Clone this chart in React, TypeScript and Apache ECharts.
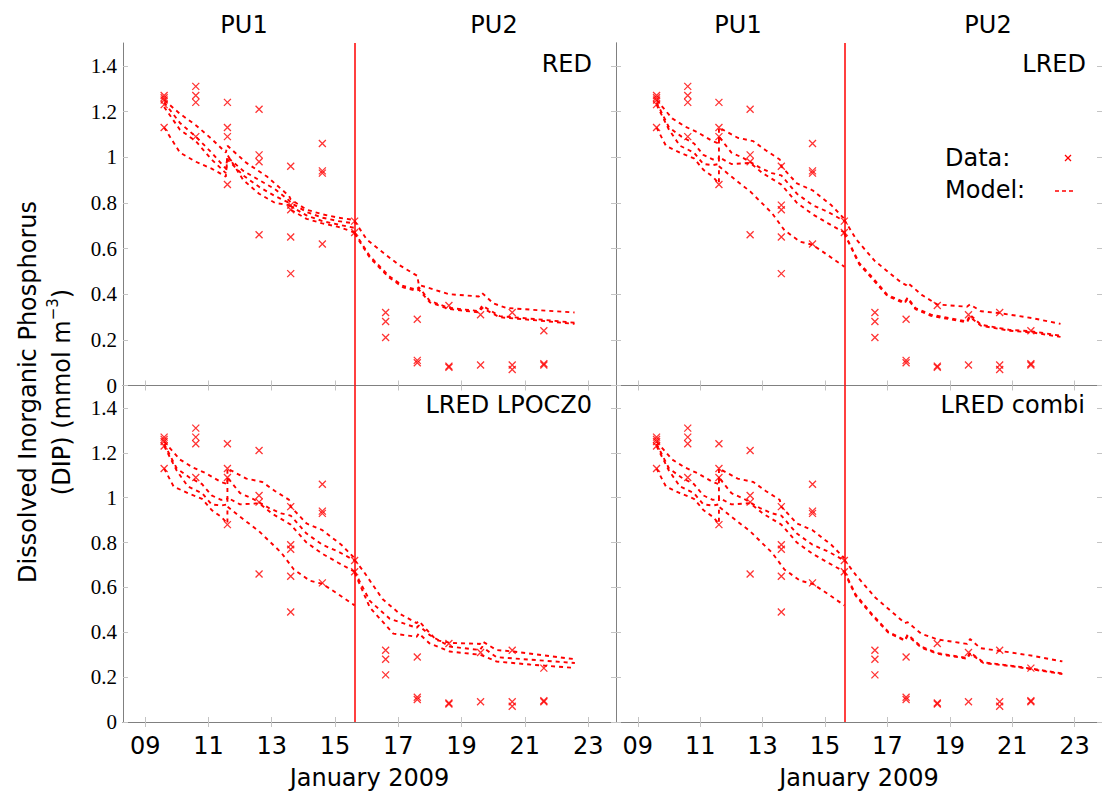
import React, { useEffect, useRef } from "react";
import * as echarts from "echarts";

// ---------- axis ranges / ticks ----------
const X_MIN = 8.3;
const X_MAX = 23.88;
const X_TICKS = [9, 11, 13, 15, 17, 19, 21, 23];
const X_TICK_LABELS = ["09", "11", "13", "15", "17", "19", "21", "23"];
const Y_MIN = 0;
const Y_MAX = 1.5;
const Y_TICKS = [0, 0.2, 0.4, 0.6, 0.8, 1.0, 1.2, 1.4];
const Y_TICK_LABELS = ["0", "0.2", "0.4", "0.6", "0.8", "1", "1.2", "1.4"];
const PU_SWITCH_DAY = 15.62;

// ---------- observations (same in all panels) ----------
const DATA_DAYS = [9.6, 10.6, 11.6, 12.6, 13.6, 14.6, 15.62, 16.6, 17.6, 18.6, 19.6, 20.6, 21.6];
const DATA_DIP = [
  [1.27, 1.26, 1.25, 1.23, 1.13],
  [1.31, 1.27, 1.24, 1.09],
  [1.24, 1.13, 1.09, 0.88],
  [1.21, 1.01, 0.98, 0.66],
  [0.96, 0.79, 0.77, 0.65, 0.49],
  [1.06, 0.94, 0.93, 0.62],
  [0.72, 0.67],
  [0.32, 0.28, 0.21],
  [0.29, 0.11, 0.1],
  [0.35, 0.085, 0.08],
  [0.31, 0.09],
  [0.32, 0.09, 0.07],
  [0.24, 0.095, 0.09],
];

// ---------- model runs: [day, DIP] ----------
const RED_PU1 = [
  [[9.6, 1.25], [10.1, 1.19], [10.6, 1.14], [11.1, 1.08], [11.55, 1.02], [11.6, 1.05], [12.2, 0.975], [12.85, 0.915], [13.55, 0.83], [13.6, 0.815], [14.1, 0.77], [14.6, 0.75], [15.1, 0.735], [15.62, 0.725]],
  [[9.6, 1.24], [10.1, 1.15], [10.6, 1.09], [11.1, 1.02], [11.55, 0.95], [11.6, 1.0], [12.1, 0.94], [12.6, 0.9], [13.1, 0.86], [13.55, 0.81], [13.6, 0.8], [14.1, 0.76], [14.6, 0.735], [15.1, 0.72], [15.62, 0.71]],
  [[9.6, 1.22], [10.1, 1.12], [10.6, 1.07], [11.1, 0.99], [11.55, 0.93], [11.6, 0.99], [12.1, 0.92], [12.6, 0.87], [13.1, 0.83], [13.55, 0.8], [13.6, 0.785], [14.1, 0.745], [14.6, 0.72], [15.1, 0.705], [15.62, 0.69]],
  [[9.6, 1.13], [10.1, 1.02], [10.6, 0.98], [11.1, 0.95], [11.55, 0.915], [11.6, 1.01], [12.1, 0.9], [12.6, 0.84], [13.1, 0.8], [13.55, 0.79], [13.6, 0.77], [14.1, 0.73], [14.6, 0.71], [15.1, 0.695], [15.62, 0.67]],
];
const RED_PU2 = [
  [[15.62, 0.72], [16.0, 0.64], [16.4, 0.595], [17.0, 0.53], [17.6, 0.48], [17.65, 0.44], [17.9, 0.43], [18.6, 0.4], [19.55, 0.39], [19.65, 0.405], [20.0, 0.36], [20.4, 0.34], [21.4, 0.33], [22.57, 0.32]],
  [[15.62, 0.67], [16.1, 0.567], [16.7, 0.48], [17.15, 0.436], [17.57, 0.42], [17.65, 0.43], [18.0, 0.37], [18.6, 0.34], [19.55, 0.326], [19.65, 0.35], [20.2, 0.304], [21.4, 0.29], [22.57, 0.275]],
  [[15.62, 0.665], [16.1, 0.56], [16.7, 0.474], [17.15, 0.43], [17.57, 0.414], [17.65, 0.42], [18.0, 0.364], [18.6, 0.335], [19.55, 0.32], [19.65, 0.34], [20.2, 0.299], [21.4, 0.285], [22.57, 0.27]],
];
const LRED_PU1 = [
  [[9.6, 1.25], [10.1, 1.17], [10.5, 1.135], [10.9, 1.11], [11.4, 1.07], [11.6, 1.06], [11.6, 1.13], [12.2, 1.085], [12.7, 1.07], [13.1, 1.03], [13.55, 0.99], [13.6, 0.96], [14.1, 0.885], [14.6, 0.855], [15.2, 0.79], [15.62, 0.73]],
  [[9.6, 1.24], [10.0, 1.13], [10.4, 1.09], [10.8, 1.06], [11.1, 1.01], [11.4, 0.99], [11.6, 0.995], [11.6, 1.09], [12.0, 1.02], [12.4, 0.995], [12.9, 0.955], [13.3, 0.93], [13.6, 0.92], [14.1, 0.84], [14.6, 0.79], [15.1, 0.76], [15.62, 0.72]],
  [[9.6, 1.23], [10.0, 1.12], [10.35, 1.05], [10.8, 1.02], [11.1, 0.97], [11.4, 0.965], [11.6, 0.97], [11.6, 1.0], [12.0, 0.97], [12.6, 0.975], [13.0, 0.93], [13.6, 0.88], [14.1, 0.8], [14.6, 0.75], [15.1, 0.71], [15.62, 0.67]],
  [[9.6, 1.13], [9.9, 1.05], [10.35, 1.02], [10.8, 0.995], [11.1, 0.945], [11.4, 0.915], [11.6, 0.885], [11.6, 0.96], [12.0, 0.915], [12.6, 0.85], [13.3, 0.755], [13.7, 0.68], [14.2, 0.63], [14.6, 0.616], [15.1, 0.57], [15.62, 0.52]],
];
const LRED_PU2 = [
  [[15.62, 0.726], [16.0, 0.64], [16.6, 0.545], [17.45, 0.45], [17.6, 0.44], [17.65, 0.45], [18.1, 0.397], [18.6, 0.355], [19.55, 0.345], [19.65, 0.355], [20.0, 0.325], [20.6, 0.317], [21.65, 0.295], [22.55, 0.27]],
  [[15.62, 0.667], [16.1, 0.536], [16.5, 0.477], [17.0, 0.397], [17.55, 0.364], [17.65, 0.385], [17.9, 0.339], [18.4, 0.31], [19.55, 0.28], [19.65, 0.31], [20.0, 0.266], [20.9, 0.244], [21.65, 0.237], [22.55, 0.218]],
  [[15.62, 0.665], [16.1, 0.53], [16.5, 0.47], [17.0, 0.392], [17.55, 0.36], [17.65, 0.38], [17.9, 0.334], [18.4, 0.305], [19.55, 0.277], [19.65, 0.3], [20.0, 0.262], [20.9, 0.24], [21.65, 0.232], [22.55, 0.213]],
];
const LPOCZ0_PU2 = [
  [[15.62, 0.723], [15.9, 0.672], [16.5, 0.548], [17.05, 0.482], [17.58, 0.441], [17.65, 0.45], [18.2, 0.365], [18.63, 0.353], [19.58, 0.348], [19.65, 0.36], [20.1, 0.321], [20.64, 0.314], [22.58, 0.28]],
  [[15.62, 0.67], [16.1, 0.54], [16.73, 0.46], [17.58, 0.42], [17.65, 0.43], [18.0, 0.387], [18.63, 0.336], [19.58, 0.321], [19.65, 0.335], [20.1, 0.289], [21.16, 0.278], [22.58, 0.263]],
  [[15.62, 0.665], [16.1, 0.511], [16.84, 0.394], [17.58, 0.38], [17.65, 0.395], [17.99, 0.35], [18.63, 0.314], [19.58, 0.3], [20.1, 0.27], [21.16, 0.256], [22.58, 0.241]],
];
const COMBI_PU2 = [
  [[15.62, 0.723], [15.98, 0.657], [16.61, 0.555], [17.56, 0.441], [17.65, 0.445], [18.08, 0.394], [18.61, 0.368], [19.56, 0.348], [19.65, 0.37], [19.98, 0.329], [20.61, 0.317], [21.66, 0.295], [22.61, 0.27]],
  [[15.62, 0.672], [15.98, 0.569], [16.5, 0.482], [17.03, 0.402], [17.56, 0.365], [17.65, 0.39], [18.08, 0.336], [18.61, 0.307], [19.56, 0.285], [19.65, 0.31], [20.08, 0.266], [21.13, 0.248], [21.66, 0.237], [22.61, 0.216]],
  [[15.62, 0.668], [15.98, 0.563], [16.5, 0.477], [17.03, 0.398], [17.56, 0.362], [17.65, 0.385], [18.08, 0.332], [18.61, 0.304], [19.56, 0.282], [19.65, 0.305], [20.08, 0.263], [21.13, 0.246], [21.66, 0.234], [22.61, 0.214]],
];

const PANEL_NAMES = ["RED", "LRED", "LRED LPOCZ0", "LRED combi"];
const PANEL_MODELS = [
  [...RED_PU1, ...RED_PU2],
  [...LRED_PU1, ...LRED_PU2],
  [...LRED_PU1, ...LPOCZ0_PU2],
  [...LRED_PU1, ...COMBI_PU2],
];
const PERIOD_LABELS = ["PU1", "PU2"];

// ---------- layout ----------
const W = 1102;
const H = 791;
const GRIDS = [
  { left: 123, top: 43, width: 493, height: 342.5 },
  { left: 616, top: 43, width: 493, height: 342.5 },
  { left: 123, top: 385.5, width: 493, height: 341.5 },
  { left: 616, top: 385.5, width: 493, height: 341.5 },
];
const SANS = "DejaVu Sans";
const SERIF = "Liberation Serif";
const RED = "#ff0000";
const AXIS_COLOR = "#808080";
const TICK_COLOR = "#c4c4c4";

function buildOption() {
  const xAxis: any[] = [];
  const yAxis: any[] = [];
  const series: any[] = [];
  const scatterData: number[][] = [];
  DATA_DAYS.forEach((d, i) => DATA_DIP[i].forEach((v) => scatterData.push([d, v])));

  GRIDS.forEach((g, i) => {
    const isBottom = i >= 2;
    const isLeft = i % 2 === 0;
    const tick = { show: true, inside: true, length: 5, lineStyle: { color: TICK_COLOR, width: 1 } };
    const axisLine = { show: true, lineStyle: { color: AXIS_COLOR, width: 1 } };
    ["bottom", "top"].forEach((pos) => {
      const main = pos === "bottom";
      xAxis.push({
        type: "value",
        gridIndex: i,
        position: pos,
        min: X_MIN,
        max: X_MAX,
        axisLine,
        axisTick: { ...tick, customValues: X_TICKS },
        splitLine: { show: false },
        axisLabel: {
          show: main && isBottom,
          customValues: X_TICKS,
          formatter: (v: number) => X_TICK_LABELS[X_TICKS.indexOf(Math.round(v))] ?? "",
          fontFamily: SANS,
          fontSize: 24,
          color: "#000",
          margin: 12,
        },
        name: main && isBottom ? "January 2009" : "",
        nameLocation: "middle",
        nameGap: 44,
        nameTextStyle: { fontFamily: SANS, fontSize: 24, color: "#000" },
      });
    });
    ["left", "right"].forEach((pos) => {
      const main = pos === "left";
      yAxis.push({
        type: "value",
        gridIndex: i,
        position: pos,
        min: Y_MIN,
        max: Y_MAX,
        axisLine,
        axisTick: { ...tick, customValues: Y_TICKS },
        splitLine: { show: false },
        axisLabel: {
          show: main && isLeft,
          customValues: Y_TICKS,
          formatter: (v: number) => Y_TICK_LABELS[Y_TICKS.findIndex((t) => Math.abs(t - v) < 1e-6)] ?? "",
          fontFamily: SERIF,
          fontSize: 21,
          lineHeight: 21,
          color: "#000",
          margin: 6,
        },
      });
    });

    series.push({
      name: "Data:",
      type: "scatter",
      xAxisIndex: 2 * i,
      yAxisIndex: 2 * i,
      symbol: "path://M0,0L10,10M10,0L0,10",
      symbolSize: 7,
      itemStyle: { color: "rgba(0,0,0,0)", borderColor: RED, borderWidth: 1.3 },
      data: scatterData,
      z: 3,
      markLine: {
        silent: true,
        symbol: ["none", "none"],
        label: { show: false },
        lineStyle: { color: RED, width: 1.5, type: "solid" },
        data: [{ xAxis: PU_SWITCH_DAY }],
      },
    });
    PANEL_MODELS[i].forEach((run) => {
      series.push({
        name: "Model:",
        type: "line",
        xAxisIndex: 2 * i,
        yAxisIndex: 2 * i,
        symbol: "none",
        showSymbol: false,
        lineStyle: { color: RED, width: 1.9, type: [4, 4] },
        data: run,
        z: 2,
      });
    });
  });

  const graphic: any[] = [];
  const periodCenters = [
    [244, 494],
    [738, 988],
  ];
  periodCenters.forEach((pair) =>
    pair.forEach((cx, j) =>
      graphic.push({
        type: "text",
        x: cx,
        y: 25,
        style: { text: PERIOD_LABELS[j], font: `24px '${SANS}'`, fill: "#000", align: "center", verticalAlign: "middle" },
      })
    )
  );
  const labelPos = [
    [592, 64],
    [1086, 64],
    [592, 405],
    [1085, 405],
  ];
  labelPos.forEach((p, i) =>
    graphic.push({
      type: "text",
      x: p[0],
      y: p[1],
      style: { text: PANEL_NAMES[i], font: `24px '${SANS}'`, fill: "#000", align: "right", verticalAlign: "middle" },
    })
  );
  // legend
  graphic.push({
    type: "text",
    x: 945,
    y: 158,
    style: { text: "Data:", font: `24px '${SANS}'`, fill: "#000", align: "left", verticalAlign: "middle" },
  });
  graphic.push({
    type: "text",
    x: 945,
    y: 190,
    style: { text: "Model:", font: `24px '${SANS}'`, fill: "#000", align: "left", verticalAlign: "middle" },
  });
  graphic.push({ type: "line", shape: { x1: 1065, y1: 155, x2: 1071, y2: 161 }, style: { stroke: RED, lineWidth: 1.2 } });
  graphic.push({ type: "line", shape: { x1: 1065, y1: 161, x2: 1071, y2: 155 }, style: { stroke: RED, lineWidth: 1.2 } });
  graphic.push({
    type: "line",
    shape: { x1: 1055, y1: 191, x2: 1076, y2: 191 },
    style: { stroke: RED, lineWidth: 1.5, lineDash: [4, 3] },
  });
  // y-axis title
  graphic.push({
    type: "text",
    x: 45,
    y: 392,
    rotation: Math.PI / 2,
    style: {
      text: "{a|Dissolved Inorganic Phosphorus}\n{a|(DIP) (mmol m}{s|−3}{a|)}",
      align: "center",
      verticalAlign: "middle",
      fill: "#000",
      rich: {
        a: { fontFamily: SANS, fontSize: 24, lineHeight: 34, fill: "#000" },
        s: { fontFamily: SANS, fontSize: 15, lineHeight: 34, verticalAlign: "top", fill: "#000" },
      },
    },
  });

  return {
    animation: false,
    backgroundColor: "#ffffff",
    grid: GRIDS.map((g) => ({ ...g, containLabel: false })),
    xAxis,
    yAxis,
    series,
    graphic,
  };
}

export default function App() {
  const ref = useRef<HTMLDivElement>(null);
  useEffect(() => {
    document.body.style.margin = "0";
    if (!ref.current) return;
    const chart = echarts.init(ref.current, undefined, { renderer: "svg" });
    chart.setOption(buildOption());
    return () => chart.dispose();
  }, []);
  return <div ref={ref} style={{ width: W, height: H, position: "absolute", left: 0, top: 0 }} />;
}
